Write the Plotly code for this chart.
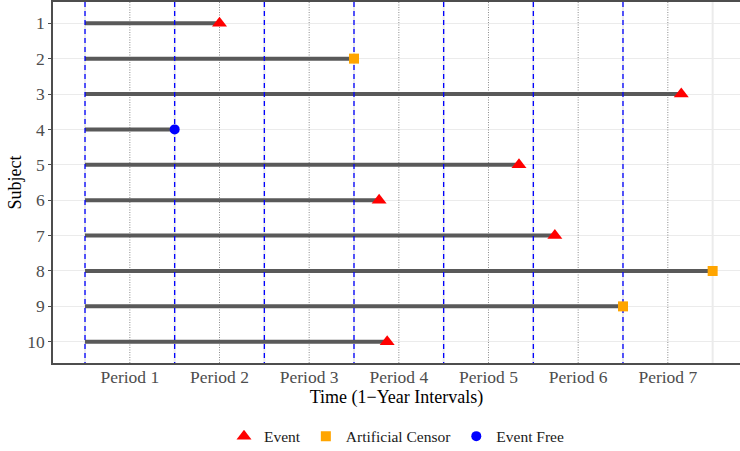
import plotly.graph_objects as go

# Follow-up data per subject
subjects = [1, 2, 3, 4, 5, 6, 7, 8, 9, 10]
end_time = [1.5, 3.0, 6.65, 1.0, 4.84, 3.28, 5.24, 7.0, 6.0, 3.37]
status = ["Event", "Artificial Censor", "Event", "Event Free", "Event",
          "Event", "Event", "Artificial Censor", "Artificial Censor", "Event"]

period_boundaries = [0, 1, 2, 3, 4, 5, 6]
period_centres = [0.5, 1.5, 2.5, 3.5, 4.5, 5.5, 6.5]
period_labels = ["Period 1", "Period 2", "Period 3", "Period 4",
                 "Period 5", "Period 6", "Period 7"]

status_styles = {
    "Event": dict(symbol="triangle-up", color="#FF0000", size=13),
    "Artificial Censor": dict(symbol="square", color="#FFA500", size=10),
    "Event Free": dict(symbol="circle", color="#0000FF", size=10),
}

Y_LO, Y_HI = 0.4, 10.6
fig = go.Figure()

# dotted guides at each period centre
for c in period_centres:
    fig.add_trace(go.Scatter(x=[c, c], y=[Y_LO, Y_HI], mode="lines",
                             line=dict(color="#6E6E6E", width=0.8, dash="1px,1.5px"),
                             showlegend=False, hoverinfo="skip"))

# follow-up segments
seg_x, seg_y = [], []
for s, t in zip(subjects, end_time):
    seg_x += [0, t, None]
    seg_y += [s, s, None]
fig.add_trace(go.Scatter(x=seg_x, y=seg_y, mode="lines",
                         line=dict(color="#595959", width=4),
                         showlegend=False, hoverinfo="skip"))

# period boundaries
for b in period_boundaries:
    fig.add_trace(go.Scatter(x=[b, b], y=[Y_LO, Y_HI], mode="lines",
                             line=dict(color="#0000FF", width=1.3, dash="5px,4px"),
                             showlegend=False, hoverinfo="skip"))

# end-of-follow-up markers
for name, st in status_styles.items():
    xs = [t for t, k in zip(end_time, status) if k == name]
    ys = [s for s, k in zip(subjects, status) if k == name]
    fig.add_trace(go.Scatter(x=xs, y=ys, mode="markers", name=name,
                             marker=dict(symbol=st["symbol"], color=st["color"],
                                         size=st["size"], line=dict(width=0))))

serif = "Liberation Serif"
fig.update_layout(
    width=740, height=451,
    margin=dict(l=53, r=0, t=2, b=88, autoexpand=False),
    plot_bgcolor="white", paper_bgcolor="white",
    font=dict(family=serif, size=16, color="#4D4D4D"),
    legend=dict(orientation="h", x=0.5, xanchor="center",
                yref="container", y=0.032, yanchor="middle",
                font=dict(family=serif, size=15.5, color="#1A1A1A"),
                itemwidth=30, tracegroupgap=0),
    xaxis=dict(range=[-0.357, 7.305], tickmode="array",
               tickvals=period_centres, ticktext=period_labels,
               showgrid=False, zeroline=False, automargin=False,
               showline=True, linecolor="#4D4D4D", linewidth=1.5, mirror=True,
               ticks="", ticklabelstandoff=-3,
               tickfont=dict(family=serif, size=17.5, color="#4D4D4D"),
               title=dict(text="Time (1\u2212Year Intervals)", standoff=0,
                          font=dict(family=serif, size=18, color="#000000"))),
    yaxis=dict(range=[Y_HI, Y_LO], tickmode="array", tickvals=subjects,
               ticktext=[str(s) for s in subjects], automargin=False,
               showgrid=True, gridcolor="#EBEBEB", gridwidth=1, zeroline=False,
               showline=True, linecolor="#4D4D4D", linewidth=1.5,
               ticks="outside", ticklen=3, tickcolor="#4D4D4D",
               tickfont=dict(family=serif, size=17.5, color="#4D4D4D"),
               title=dict(text="Subject", standoff=1,
                          font=dict(family=serif, size=18, color="#000000"))),
)

# light minor grid at whole-year marks (visible where not overdrawn)
for g in [0, 1, 2, 3, 4, 5, 6, 7]:
    fig.add_shape(type="line", x0=g, x1=g, y0=Y_LO, y1=Y_HI, xref="x", yref="y",
                  line=dict(color="#EBEBEB", width=2), layer="below")

fig.write_html("out.html")
